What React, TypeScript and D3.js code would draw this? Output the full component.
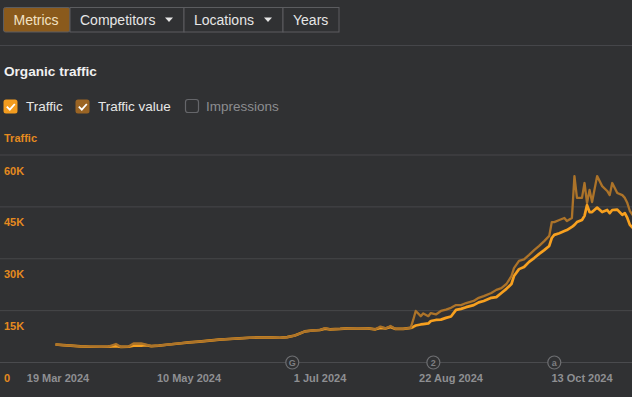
import React from "react";
import * as d3 from "d3";

const dates = [
  "2024-03-18","2024-03-21","2024-03-24","2024-03-28","2024-04-01","2024-04-05","2024-04-08","2024-04-11","2024-04-13","2024-04-16",
  "2024-04-18","2024-04-21","2024-04-23","2024-04-25","2024-04-28","2024-05-02","2024-05-06","2024-05-10","2024-05-14","2024-05-18",
  "2024-05-22","2024-05-26","2024-05-30","2024-06-03","2024-06-07","2024-06-11","2024-06-15","2024-06-18","2024-06-21","2024-06-23",
  "2024-06-25","2024-06-28","2024-07-01","2024-07-03","2024-07-05","2024-07-09","2024-07-12","2024-07-16","2024-07-20","2024-07-23",
  "2024-07-25","2024-07-27","2024-07-29","2024-07-31","2024-08-03","2024-08-06","2024-08-07","2024-08-08","2024-08-10","2024-08-11",
  "2024-08-13","2024-08-14","2024-08-16","2024-08-18","2024-08-20","2024-08-22","2024-08-24","2024-08-26","2024-08-28","2024-08-31",
  "2024-09-02","2024-09-04","2024-09-07","2024-09-09","2024-09-11","2024-09-13","2024-09-15","2024-09-16","2024-09-18","2024-09-20",
  "2024-09-22","2024-09-24","2024-09-26","2024-09-28","2024-09-30","2024-10-01","2024-10-02","2024-10-04","2024-10-06","2024-10-07",
  "2024-10-09","2024-10-10","2024-10-11","2024-10-13","2024-10-14","2024-10-15","2024-10-16","2024-10-17","2024-10-19","2024-10-21",
  "2024-10-23","2024-10-24","2024-10-25","2024-10-27","2024-10-29","2024-10-30","2024-10-31","2024-11-01","2024-11-03",
];

// thousands
const traffic = [
  5.2,5.05,4.9,4.65,4.55,4.55,4.6,4.75,4.5,4.6,
  4.9,4.9,5.0,4.75,4.9,5.2,5.5,5.8,6.05,6.35,
  6.6,6.8,7.0,7.15,7.25,7.25,7.15,7.35,7.8,8.4,
  9.0,9.25,9.4,9.8,9.6,9.7,9.85,9.9,9.85,9.6,
  10.0,9.85,10.3,9.7,9.7,10.0,10.3,10.7,11.0,11.1,
  11.3,12.0,12.3,12.4,12.9,13.3,15.2,15.5,16.0,16.6,
  17.4,17.8,18.7,18.9,20.1,21.3,22.7,25.0,27.0,27.6,
  29.1,30.2,31.4,32.5,33.7,36.0,36.9,37.4,38.0,38.3,
  39.2,39.8,40.6,41.2,42.4,45.5,43.5,43.5,44.8,43.5,
  44.1,43.2,44.1,44.2,42.7,43.2,41.8,39.8,38.3,
];

const trafficValue = [
  5.2,5.05,4.9,4.65,4.6,4.55,4.6,5.35,4.5,4.6,
  5.5,5.5,5.15,4.75,4.9,5.2,5.5,5.8,6.05,6.35,
  6.6,6.8,7.0,7.15,7.25,7.25,7.15,7.35,7.8,8.4,
  9.0,9.25,9.4,9.95,9.6,9.7,9.85,9.9,9.85,9.6,
  10.4,9.85,10.55,9.7,9.7,10.0,12.3,14.9,13.4,14.2,
  13.4,14.3,13.9,14.9,15.3,15.8,16.6,16.6,17.2,17.8,
  18.7,19.2,20.1,21.0,21.5,22.7,25.0,27.3,29.4,29.8,
  31.1,32.5,33.7,35.1,36.6,40.6,40.6,41.2,41.8,40.9,
  41.8,53.9,47.6,47.6,51.9,46.1,49.9,46.4,53.9,51.0,
  49.6,48.4,51.9,49.0,48.4,47.6,46.1,43.8,41.8,
];

const yTicks = [0, 15, 30, 45, 60];
const yTickLabels = ["0", "15K", "30K", "45K", "60K"];
const xTickDates = ["2024-03-19", "2024-05-10", "2024-07-01", "2024-08-22", "2024-10-13"];
const xTickLabels = ["19 Mar 2024", "10 May 2024", "1 Jul 2024", "22 Aug 2024", "13 Oct 2024"];
const annotationDates = ["2024-06-20", "2024-08-15", "2024-10-02"];
const annotationLabels = ["G", "2", "a"];

const tabs = ["Metrics", "Competitors", "Locations", "Years"];
const tabArrows = [false, true, true, false];
const tabEdges = [3.5, 70, 184, 283, 339];

const parse = d3.utcParse("%Y-%m-%d");

export default function App() {
  const W = 632, H = 397;
  const bg = "#303133";
  const x = d3.scaleUtc().domain([parse("2024-03-19")!, parse("2024-10-13")!]).range([58, 582]);
  const y = d3.scaleLinear().domain([0, 60]).range([362.5, 155]);
  const pts = dates.map((d, i) => ({ d: parse(d)!, t: traffic[i], v: trafficValue[i] }));
  const lineT = d3.line<any>().x((p) => x(p.d)).y((p) => y(p.t)).curve(d3.curveLinear);
  const lineV = d3.line<any>().x((p) => x(p.d)).y((p) => y(p.v)).curve(d3.curveLinear);
  const font = "Arial, 'Liberation Sans', sans-serif";

  return (
    <div style={{ position: "fixed", left: 0, top: 0, width: W, height: H, background: bg }}>
      <svg width={W} height={H} style={{ display: "block", fontFamily: font }}>
        <rect width={W} height={H} fill={bg} />
        {/* tabs */}
        {tabs.map((t, i) => {
          const x0 = tabEdges[i], x1 = tabEdges[i + 1];
          const active = i === 0;
          return (
            <g key={t}>
              <rect x={x0} y={7.5} width={x1 - x0} height={24.5} fill={active ? "#8a5a1c" : "#303133"} stroke="#5c5d60" strokeWidth={1} rx={i === 0 ? 2 : 0} />
              <text x={x0 + 10} y={25} fontSize={14} fill={active ? "#f2e2c4" : "#e6e6e6"}>{t}</text>
              {tabArrows[i] && <path d={`M${x1 - 19},17.5 l8,0 l-4,4.5 z`} fill="#e6e6e6" />}
            </g>
          );
        })}
        <line x1={0} x2={W} y1={45.5} y2={45.5} stroke="#45464a" strokeWidth={1} />
        <text x={4} y={76} fontSize={13.6} fontWeight="bold" fill="#f0f0f0">Organic traffic</text>
        {/* checkboxes */}
        <rect x={3.5} y={99.5} width={14} height={14} rx={2.5} fill="#f39c1f" />
        <path d="M6.8,106.6 l3,3 l5,-5.6" stroke="#fff" strokeWidth={1.8} fill="none" />
        <text x={26} y={111} fontSize={13.5} fill="#e6e6e6">Traffic</text>
        <rect x={75.5} y={99.5} width={14} height={14} rx={2.5} fill="#9a6424" />
        <path d="M78.8,106.6 l3,3 l5,-5.6" stroke="#fff" strokeWidth={1.8} fill="none" />
        <text x={98} y={111} fontSize={13.5} fill="#e6e6e6">Traffic value</text>
        <rect x={185.5} y={99.5} width={13} height={13} rx={2.5} fill="none" stroke="#65666a" strokeWidth={1.2} />
        <text x={206} y={111} fontSize={13.5} fill="#8c8d90">Impressions</text>
        <text x={4} y={142} fontSize={11} fontWeight="bold" fill="#e58a1f">Traffic</text>
        {/* grid */}
        {yTicks.map((v, i) => (
          <g key={v}>
            <line x1={0} x2={W} y1={y(v)} y2={y(v)} stroke={i === 0 ? "#4a4b4e" : "#46474a"} strokeWidth={1} />
            <text x={4} y={y(v) + 19.5} fontSize={11} fontWeight="bold" fill="#e58a1f">{yTickLabels[i]}</text>
          </g>
        ))}
        {xTickDates.map((d, i) => (
          <text key={d} x={x(parse(d)!)} y={382} fontSize={11} fontWeight="bold" fill="#8e8f92" textAnchor="middle">{xTickLabels[i]}</text>
        ))}
        {annotationDates.map((d, i) => (
          <g key={d} transform={`translate(${x(parse(d)!)},${y(0)})`}>
            <circle r={6.5} fill={bg} stroke="#6e6f72" strokeWidth={1.2} />
            <text y={3.3} fontSize={9} fontWeight="bold" fill="#7e7f82" textAnchor="middle">{annotationLabels[i]}</text>
          </g>
        ))}
        {/* lines */}
        <path d={lineT(pts)!} fill="none" stroke="#f7a01f" strokeWidth={2.7} strokeLinejoin="round" />
        <path d={lineV(pts)!} fill="none" stroke="#ac7329" strokeWidth={2.3} strokeLinejoin="round" />
      </svg>
    </div>
  );
}
